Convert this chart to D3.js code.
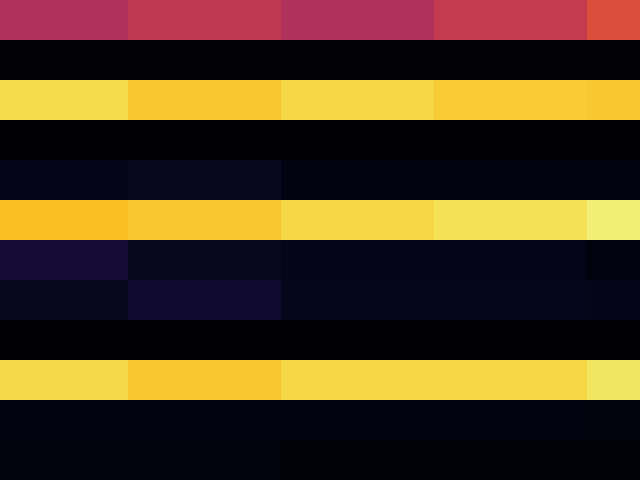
<!DOCTYPE html>
<html><head><meta charset="utf-8">
<script src="https://cdn.jsdelivr.net/npm/d3@7"></script>
<style>html,body{margin:0;padding:0;background:#fff;}svg{display:block;}</style>
</head><body>
<svg id="chart" width="640" height="480"></svg>
<script>
// column edges (data units)
const xEdges = [0, 1, 2.195, 3.39, 4.585, 5];
const rowLabels = ["r0","r1","r2","r3","r4","r5","r6","r7","r8","r9","r10","r11"];
const row0  = [0.47, 0.51, 0.47, 0.52, 0.59];
const row1  = [0.008, 0.008, 0.008, 0.008, 0.008];
const row2  = [0.91, 0.87, 0.90, 0.875, 0.87];
const row3  = [0.0, 0.0, 0.0, 0.0, 0.0];
const row4  = [0.04, 0.055, 0.028, 0.03, 0.025];
const row5  = [0.85, 0.87, 0.90, 0.92, 0.95];
const row6  = [0.09, 0.055, 0.045, 0.04, 0.025];
const row7  = [0.055, 0.085, 0.05, 0.05, 0.045];
const row8  = [0.004, 0.004, 0.004, 0.004, 0.004];
const row9  = [0.905, 0.87, 0.90, 0.90, 0.93];
const row10 = [0.03, 0.03, 0.025, 0.025, 0.02];
const row11 = [0.02, 0.02, 0.015, 0.015, 0.012];
const rows = [row0,row1,row2,row3,row4,row5,row6,row7,row8,row9,row10,row11];

const W = 640, H = 480;
const svg = d3.select("#chart");
const x = d3.scaleLinear().domain([xEdges[0], xEdges[xEdges.length-1]]).range([0, W]);
const y = d3.scaleBand().domain(rowLabels).range([0, H]).padding(0);
const color = d3.scaleSequential(d3.interpolateInferno).domain([0, 1]);

const cells = [];
rows.forEach((r, i) => r.forEach((v, j) => cells.push({row: rowLabels[i], j, v})));

svg.selectAll("rect").data(cells).join("rect")
  .attr("x", d => x(xEdges[d.j]))
  .attr("width", d => x(xEdges[d.j+1]) - x(xEdges[d.j]))
  .attr("y", d => y(d.row))
  .attr("height", y.bandwidth())
  .attr("fill", d => color(d.v))
  .attr("shape-rendering", "crispEdges");
</script>
</body></html>
